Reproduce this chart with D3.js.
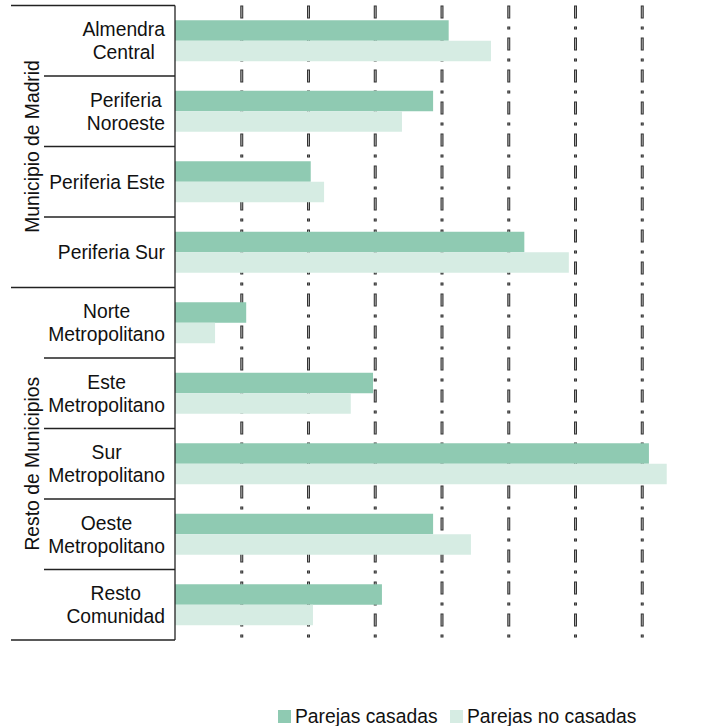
<!DOCTYPE html>
<html><head><meta charset="utf-8">
<script src="https://cdn.jsdelivr.net/npm/d3@7"></script>
<style>body{margin:0;background:#fff}svg{display:block}</style>
</head><body>
<svg id="c" width="702" height="726"></svg>
<script>
const groups = ["Municipio de Madrid", "Resto de Municipios"];
const categories = [
  {name:["Almendra","Central"], group:0},
  {name:["Periferia","Noroeste"], group:0},
  {name:["Periferia Este"], group:0},
  {name:["Periferia Sur"], group:0},
  {name:["Norte","Metropolitano"], group:1},
  {name:["Este","Metropolitano"], group:1},
  {name:["Sur","Metropolitano"], group:1},
  {name:["Oeste","Metropolitano"], group:1},
  {name:["Resto","Comunidad"], group:1}
];
const seriesNames = ["Parejas casadas", "Parejas no casadas"];
const casadas   = [12.3, 11.6, 6.1, 15.7, 3.2, 8.9, 21.3, 11.6, 9.3];
const noCasadas = [14.2, 10.2, 6.7, 17.7, 1.8, 7.9, 22.1, 13.3, 6.2];
const gridTicks = [3, 6, 9, 12, 15, 18, 21];
const colors = ["#8fcab2", "#d6ece3"];

(function(){
const svg = d3.select("#c");
const font = "'Liberation Sans', Arial, sans-serif";
const left = 175, plotTop = 5.5, plotBottom = 640;
const x = d3.scaleLinear().domain([0, 24]).range([left, 709]);
const y = d3.scaleBand().domain(d3.range(categories.length)).range([plotTop, plotBottom]);
const inner = d3.scaleBand().domain([0,1]).range([0, y.bandwidth()]).paddingOuter(0.72).paddingInner(0);

// grid lines
const g = svg.append("g");
gridTicks.forEach(t => {
  g.append("line").attr("x1", x(t)).attr("x2", x(t)).attr("y1", plotTop).attr("y2", plotBottom)
    .attr("stroke", "#333").attr("stroke-width", 3).attr("stroke-dasharray", "13,8,3,8");
  g.append("line").attr("x1", x(t)).attr("x2", x(t)).attr("y1", plotTop+1).attr("y2", plotBottom)
    .attr("stroke", "#aaa").attr("stroke-width", 1).attr("stroke-dasharray", "11,10,1,10");
});

// bars
const series = [casadas, noCasadas];
series.forEach((vals, si) => {
  svg.append("g").selectAll("rect").data(vals).join("rect")
    .attr("x", x(0))
    .attr("y", (d,i) => y(i) + inner(si))
    .attr("width", d => x(d) - x(0))
    .attr("height", inner.bandwidth())
    .attr("fill", colors[si]);
});

// axis
const ax = svg.append("g").attr("stroke", "#222").attr("stroke-width", 1.3);
ax.append("line").attr("x1", left).attr("x2", left).attr("y1", plotTop).attr("y2", plotBottom);
for (let i = 0; i <= categories.length; i++) {
  const yy = i === categories.length ? plotBottom : y(i);
  const isGroupEdge = i === 0 || i === categories.length || categories[i].group !== categories[i-1].group;
  ax.append("line").attr("x1", isGroupEdge ? 11 : 44).attr("x2", left).attr("y1", yy).attr("y2", yy);
}

// category labels
const fs = 19.3, lh = 23;
const measure = svg.append("text").attr("font-family", font).attr("font-size", fs);
categories.forEach((c, i) => {
  const widths = c.name.map(s => { measure.text(s); return measure.node().getComputedTextLength(); });
  const maxW = d3.max(widths);
  const cx = 165 - maxW/2;
  const cy = y(i) + y.bandwidth()/2;
  const n = c.name.length;
  c.name.forEach((s, k) => {
    svg.append("text").attr("x", cx).attr("y", cy + (k - (n-1)/2)*lh)
      .attr("dy", "0.35em").attr("text-anchor", "middle")
      .attr("font-family", font).attr("font-size", fs).attr("fill", "#111").text(s);
  });
});
measure.remove();

// group labels
groups.forEach((gname, gi) => {
  const idx = categories.map((c,i)=>c.group===gi?i:-1).filter(i=>i>=0);
  const y0 = y(idx[0]), y1 = y(idx[idx.length-1]) + y.bandwidth();
  const cy = (y0 + y1)/2;
  svg.append("text").attr("transform", `translate(32,${cy}) rotate(-90)`)
    .attr("text-anchor", "middle").attr("dy", "0.35em")
    .attr("font-family", font).attr("font-size", fs).attr("fill", "#111").text(gname);
});

// legend
const leg = svg.append("g");
const legX = [278, 450];
seriesNames.forEach((s, i) => {
  leg.append("rect").attr("x", legX[i]).attr("y", 710).attr("width", 13).attr("height", 13).attr("fill", colors[i]);
  leg.append("text").attr("x", legX[i] + 17).attr("y", 716.5).attr("dy", "0.35em")
    .attr("font-family", font).attr("font-size", fs).attr("fill", "#111").text(s);
});
})();
</script>
</body></html>
